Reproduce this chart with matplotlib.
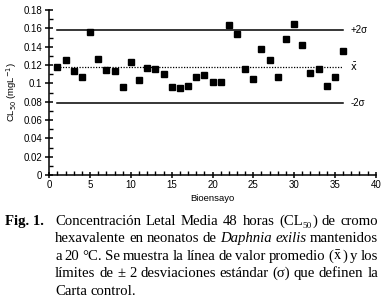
import matplotlib
matplotlib.use("Agg")
import matplotlib.pyplot as plt
from matplotlib.ticker import MultipleLocator, FuncFormatter

# datos
bioensayo = list(range(1, 37))
cl50 = [0.1175, 0.1255, 0.1135, 0.1066, 0.1557, 0.1265, 0.1145, 0.1135, 0.0957,
        0.1230, 0.1036, 0.1164, 0.1153, 0.1105, 0.0963, 0.0946, 0.0975, 0.1066,
        0.1087, 0.1015, 0.1015, 0.1633, 0.1535, 0.1153, 0.1044, 0.1375, 0.1255,
        0.1066, 0.1487, 0.1644, 0.1418, 0.1116, 0.1153, 0.0968, 0.1073, 0.1356]
media = 0.1181
mas2s = 0.1578
menos2s = 0.0789
lim_x = [1, 36]

W, H = 386, 301
fig = plt.figure(figsize=(W / 100, H / 100), dpi=100)
ax = fig.add_axes([49.3 / W, 1 - 175 / H, 326.4 / W, 165 / H])

ax.plot(bioensayo, cl50, ls="none", marker="s", ms=3.8, color="black")
ax.plot(lim_x, [mas2s, mas2s], color="black", lw=1.1)
ax.plot(lim_x, [menos2s, menos2s], color="black", lw=1.1)
ax.plot(lim_x, [media, media], color="black", lw=0.9, ls=(0, (1, 1.2)))

sans = "Liberation Sans"
ax.text(36.9, mas2s, "+2σ", family=sans, fontsize=7, va="center")
ax.text(36.9, media, r"$\bar{\mathrm{x}}$", family=sans, fontsize=7, va="center")
ax.text(36.9, menos2s, "-2σ", family=sans, fontsize=7, va="center")

ax.set_xlim(0, 40)
ax.set_ylim(0, 0.18)
ax.xaxis.set_major_locator(MultipleLocator(5))
ax.xaxis.set_minor_locator(MultipleLocator(1))
ax.yaxis.set_major_locator(MultipleLocator(0.02))
ax.yaxis.set_minor_locator(MultipleLocator(0.01))
ax.yaxis.set_major_formatter(FuncFormatter(lambda v, p: f"{v:g}"))
for s in ["top", "right"]:
    ax.spines[s].set_visible(False)
for s in ["left", "bottom"]:
    ax.spines[s].set_linewidth(1.1)
ax.tick_params(axis="x", which="major", direction="inout", length=5, width=1.1, pad=1)
ax.tick_params(axis="x", which="minor", direction="in", length=3, width=1)
ax.tick_params(axis="y", which="major", direction="inout", length=6, width=1.1, pad=2)
ax.tick_params(axis="y", which="minor", direction="in", length=3, width=1)
for lab in ax.get_xticklabels() + ax.get_yticklabels():
    lab.set_family(sans)
    lab.set_fontsize(7)
ax.set_xlabel("Bioensayo", family=sans, fontsize=6.8, labelpad=3)
ax.set_ylabel(r"CL$_{50}$ (mgL$^{-1}$)", family=sans, fontsize=6.8, labelpad=3)

# pie de figura, justificado
serif = "Liberation Serif"
fs = 10.6
R = dict(family=serif, fontsize=fs)
B = dict(family=serif, fontsize=fs, weight="bold")
I = dict(family=serif, fontsize=fs, style="italic")
SUB = dict(family=serif, fontsize=fs * 0.62)
MX = dict(family=serif, fontsize=fs, math_fontfamily="stix")


def w(*pieces):
    return list(pieces)


lineas = [
    [w(("Concentración", R)), w(("Letal", R)), w(("Media", R)), w(("48", R)),
     w(("horas", R)), w(("(CL", R), ("50", SUB), (")", R)), w(("de", R)), w(("cromo", R))],
    [w(("hexavalente", R)), w(("en", R)), w(("neonatos", R)), w(("de", R)),
     w(("Daphnia", I)), w(("exilis", I)), w(("mantenidos", R))],
    [w(("a", R)), w(("20", R)), w(("°C.", R)), w(("Se", R)), w(("muestra", R)),
     w(("la", R)), w(("línea", R)), w(("de", R)), w(("valor", R)), w(("promedio", R)),
     w(("(", R), (r"$\bar{\mathrm{x}}$", MX), (")", R)), w(("y", R)), w(("los", R))],
    [w(("límites", R)), w(("de", R)), w(("±", R)), w(("2", R)), w(("desviaciones", R)),
     w(("estándar", R)), w(("(σ)", R)), w(("que", R)), w(("definen", R)), w(("la", R))],
    [w(("Carta", R)), w(("control.", R))],
]
justificar = [True, True, True, True, False]
x0, x1 = 55, 378
y0, dy = 225, 17.4

r = fig.canvas.get_renderer()


def ancho(txt, props):
    t = fig.text(0, 0, txt, **props)
    bb = t.get_window_extent(r)
    t.remove()
    return bb.width


fig.text(5 / W, 1 - y0 / H, "Fig. 1.", va="baseline", **B)
espacio = ancho("a b", R) - ancho("ab", R)
for k, linea in enumerate(lineas):
    y = 1 - (y0 + k * dy) / H
    anchos = [[ancho(t, p) for t, p in pal] for pal in linea]
    total = sum(sum(a) for a in anchos)
    if justificar[k] and len(linea) > 1:
        gap = (x1 - x0 - total) / (len(linea) - 1)
    else:
        gap = espacio
    x = x0
    for pal, an in zip(linea, anchos):
        for (t, p), a in zip(pal, an):
            yy = y - (2.5 / H if p is SUB else 0)
            fig.text(x / W, yy, t, va="baseline", **p)
            x += a
        x += gap

fig.savefig("out.png", dpi=100)
